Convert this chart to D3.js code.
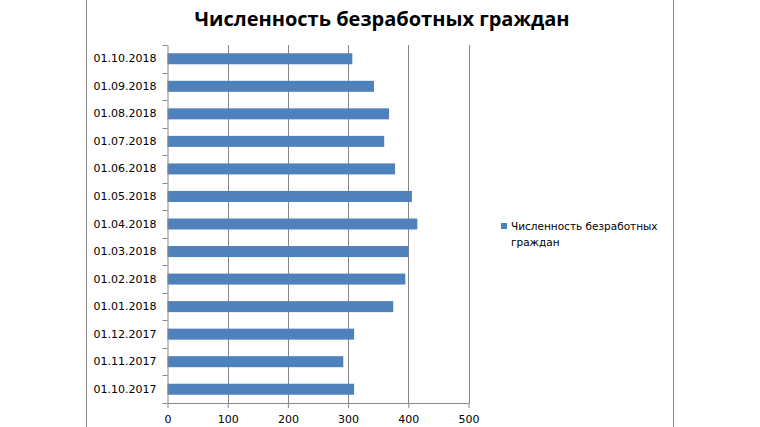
<!DOCTYPE html>
<html><head><meta charset="utf-8">
<script src="https://cdn.jsdelivr.net/npm/d3@7"></script>
<style>body{margin:0;background:#fff}svg{display:block}</style>
</head><body>
<svg id="c" width="760" height="427"></svg>
<script>
const categories = ["01.10.2017","01.11.2017","01.12.2017","01.01.2018","01.02.2018","01.03.2018","01.04.2018","01.05.2018","01.06.2018","01.07.2018","01.08.2018","01.09.2018","01.10.2018"];
const values = [310,292,310,375,395,400,415,406,378,360,368,343,307];
const xTicks = [0,100,200,300,400,500];
const seriesName = "Численность безработных граждан";
const title = "Численность безработных граждан";

(function(){
const svg = d3.select("#c");
const gray = "#868686";
const pL = 167.5, pR = 468.5, pT = 45, pB = 403;

svg.append("line").attr("x1",86.5).attr("x2",86.5).attr("y1",0).attr("y2",427).attr("stroke",gray).attr("stroke-width",1);
svg.append("line").attr("x1",673.5).attr("x2",673.5).attr("y1",0).attr("y2",427).attr("stroke",gray).attr("stroke-width",1);

const x = d3.scaleLinear().domain([0,500]).range([pL,pR]);
const y = d3.scaleBand().domain(categories.slice().reverse()).range([pT,pB]).paddingInner(0.6).paddingOuter(0.3);

svg.append("g").selectAll("line").data(xTicks.slice(1)).join("line")
  .attr("x1",d=>Math.round(x(d))+0.5).attr("x2",d=>Math.round(x(d))+0.5)
  .attr("y1",pT).attr("y2",pB).attr("stroke",gray).attr("stroke-width",1);

svg.append("g").selectAll("rect").data(categories).join("rect")
  .attr("x",x(0)).attr("y",(d)=>y(d))
  .attr("width",(d,i)=>x(values[i])-x(0)).attr("height",y.bandwidth())
  .attr("fill","#4F81BD");

const xa = svg.append("g").attr("transform",`translate(0,${pB})`)
  .call(d3.axisBottom(x).tickValues(xTicks).tickSize(5).tickPadding(7).tickSizeOuter(0));
xa.select(".domain").attr("stroke",gray);
xa.selectAll(".tick line").attr("stroke",gray);
xa.selectAll("text").attr("font-family","DejaVu Sans").attr("font-size","11px").attr("fill","#000");

const ya = svg.append("g").attr("transform",`translate(${pL},0)`)
  .call(d3.axisLeft(y).tickSize(0).tickPadding(11));
ya.select(".domain").attr("stroke",gray);
ya.selectAll("text").attr("font-family","DejaVu Sans").attr("font-size","11px").attr("fill","#000");
const bounds = d3.range(categories.length+1).map(i=>pT + i*(pB-pT)/categories.length);
ya.append("g").selectAll("line").data(bounds).join("line")
  .attr("x1",-5).attr("x2",0).attr("y1",d=>Math.round(d)+0.5).attr("y2",d=>Math.round(d)+0.5)
  .attr("stroke",gray);

svg.append("text").attr("x",382).attr("y",26).attr("text-anchor","middle")
  .attr("font-family","Open Sans").attr("font-weight","bold").attr("font-size","20px")
  .text(title);

svg.append("rect").attr("x",501).attr("y",223).attr("width",6).attr("height",6).attr("fill","#4F81BD");
const lt = svg.append("text").attr("font-family","DejaVu Sans").attr("font-size","10.5px").attr("fill","#000");
lt.append("tspan").attr("x",511).attr("y",230).text("Численность безработных");
lt.append("tspan").attr("x",511).attr("y",246).text("граждан");
})();
</script>
</body></html>
